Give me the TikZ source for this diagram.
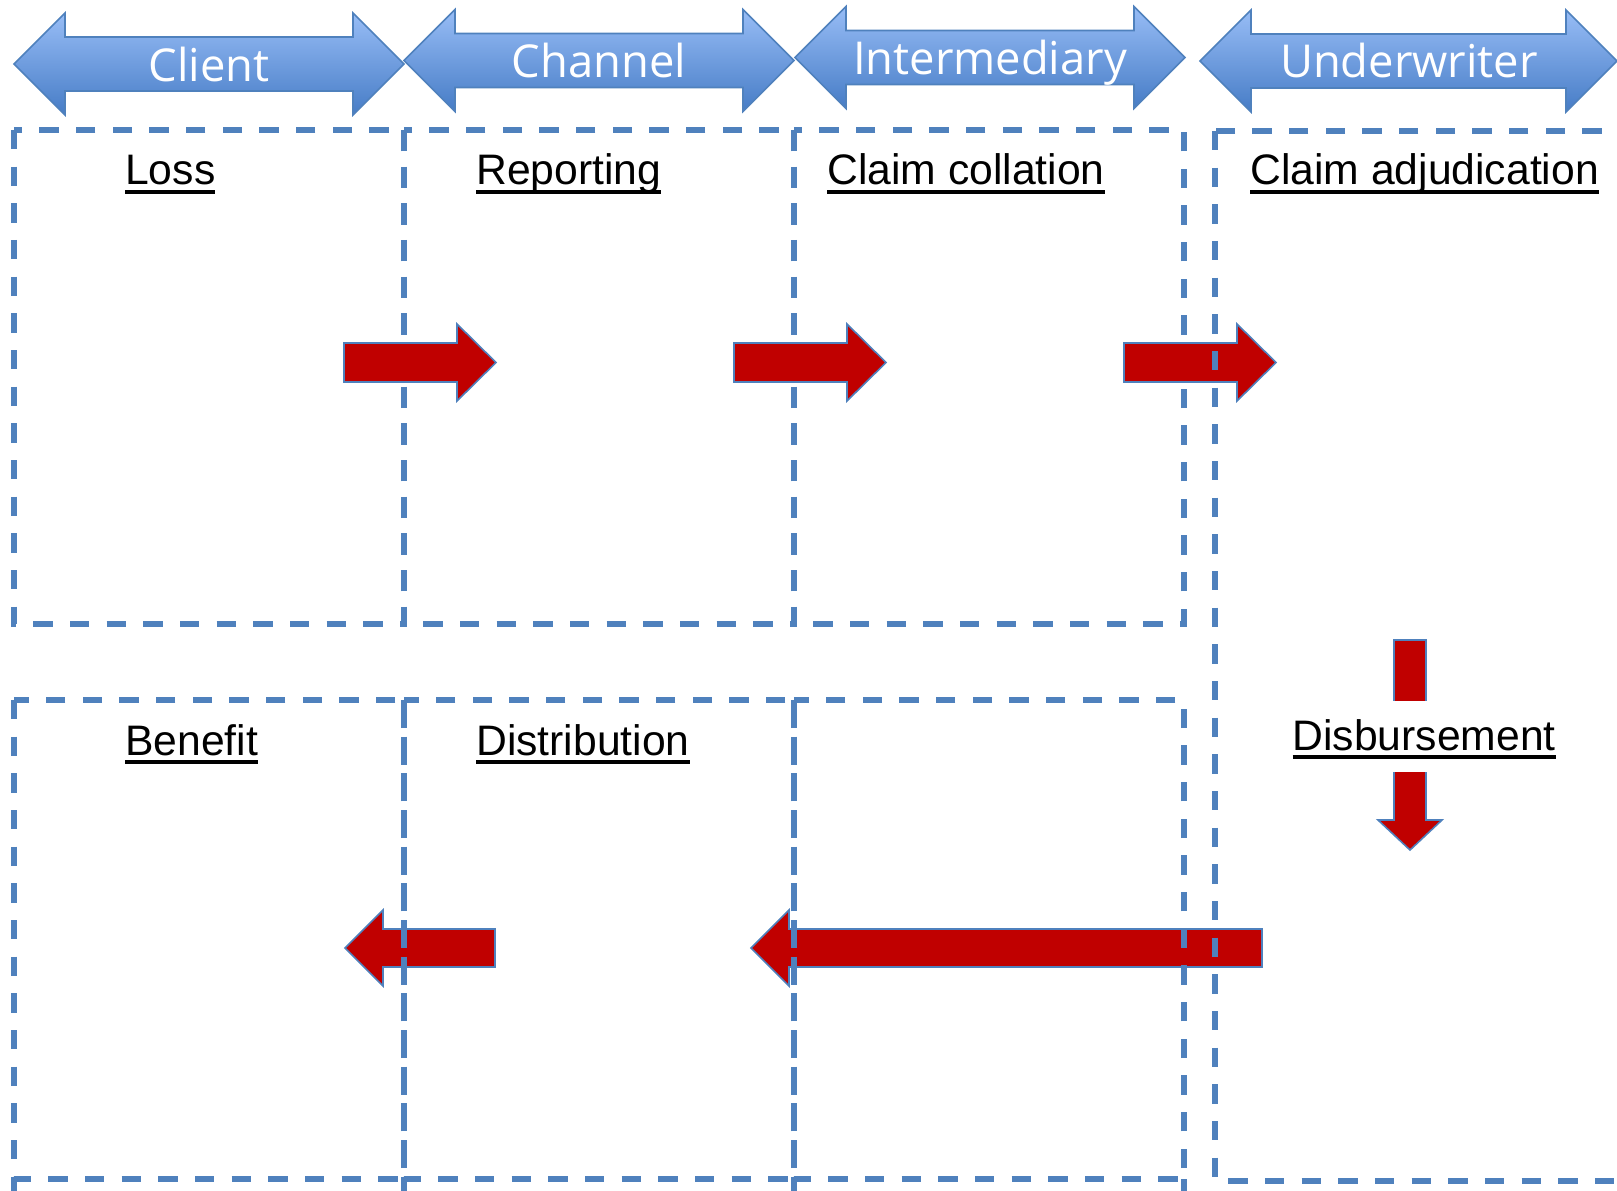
\documentclass[tikz,border=0pt]{standalone}
\usepackage{fontspec}
\setmainfont{Liberation Sans}
\newfontfamily\hdrfont{Open Sans}
\definecolor{dashblue}{HTML}{4F81BD}
\definecolor{arrred}{HTML}{C00000}
\definecolor{hdrtop}{RGB}{152,189,246}
\definecolor{hdrbot}{RGB}{70,124,198}
\definecolor{hdrline}{HTML}{4F81BD}
\newsavebox\myulbox
\newcommand\ulText[1]{\leavevmode\sbox\myulbox{#1}\rlap{\vrule height -4.1pt depth 6.4pt width \wd\myulbox}\usebox\myulbox}
\newcommand\hdrArrow[3]{%
  \path[hdrarr] (#1,#3) -- ({#1+51},{#3-51}) -- ({#1+51},{#3-27}) -- ({#2-51},{#3-27}) -- ({#2-51},{#3-51}) -- (#2,#3) -- ({#2-51},{#3+51}) -- ({#2-51},{#3+27}) -- ({#1+51},{#3+27}) -- ({#1+51},{#3+51}) -- cycle;}
\newcommand\redRight[3]{%
  \path[redarr] (#1,{#3-19.5}) -- ({#2-39},{#3-19.5}) -- ({#2-39},{#3-38.5}) -- (#2,#3) -- ({#2-39},{#3+38.5}) -- ({#2-39},{#3+19.5}) -- (#1,{#3+19.5}) -- cycle;}
\newcommand\redLeft[3]{%
  \path[redarr] (#2,{#3-19}) -- ({#1+38},{#3-19}) -- ({#1+38},{#3-38}) -- (#1,#3) -- ({#1+38},{#3+38}) -- ({#1+38},{#3+19}) -- (#2,{#3+19}) -- cycle;}
\begin{document}
\begin{tikzpicture}[x=0.75pt,y=-0.75pt,
  zone/.style={draw=dashblue, line width=4.2pt, dash pattern=on 14.5pt off 13pt},
  redarr/.style={fill=arrred, draw=dashblue, line width=1.2pt, line join=miter},
  hdrarr/.style={draw=hdrline, line width=1.2pt, top color=hdrtop, bottom color=hdrbot},
  hdrlbl/.style={text=white, font=\hdrfont\fontsize{34}{40}\selectfont, anchor=base, inner sep=0pt},
  steplbl/.style={text=black, font=\fontsize{32}{38}\selectfont, anchor=base west, inner sep=0pt}]
\useasboundingbox (0,0) rectangle (1617,1191);
\fill[white] (0,0) rectangle (1617,1191);
\clip (0,0) rectangle (1617,1191);

% header arrows
\hdrArrow{14}{404}{64}
\hdrArrow{404}{794}{60.5}
\hdrArrow{795}{1185}{57.5}
\hdrArrow{1200}{1617}{61}
\node[hdrlbl] (hClient) at (209,82) {Client};
\node[hdrlbl] (hChannel) at (599,78) {Channel};
\node[hdrlbl] (hInter) at (990,75) {Intermediary};
\node[hdrlbl] (hUnder) at (1409,78) {Underwriter};

% top row zones
\draw[zone] (14,130) rectangle (404,624);
\draw[zone] (404,130) rectangle (794,624);
\draw[zone] (794,130) rectangle (1184,624);

% top red arrows
\redRight{344}{496}{362.5}
\redRight{734}{886}{362.5}
\redRight{1124}{1276}{362.5}

% bottom red arrows
\redLeft{345}{495}{948}
\redLeft{751}{1262}{948}

% bottom row zones
\draw[zone] (14,700) rectangle (404,1179);
\draw[zone] (404,700) rectangle (794,1179);
\draw[zone] (794,700) rectangle (1184,1179);
\foreach \xx in {14,404,794,1184} \draw[zone] (\xx,1179) -- (\xx,1230);

% underwriter zone
\draw[zone] (1215,131) rectangle (1660,1181);

% down arrow
\path[redarr] (1394,640) -- (1426,640) -- (1426,820) -- (1442,820) -- (1410,850) -- (1378,820) -- (1394,820) -- cycle;

% step labels
\node[steplbl] (tLoss) at (125,185) {\ulText{Loss}};
\node[steplbl] (tReport) at (476,185) {\ulText{Reporting}};
\node[steplbl] (tCollation) at (827,185) {\ulText{Claim collation}};
\node[steplbl] (tAdjud) at (1250,185) {\ulText{Claim adjudication}};
\node[steplbl] (tBenefit) at (125,755) {\ulText{Benefit}};
\node[steplbl] (tDistrib) at (476,755) {\ulText{Distribution}};
\node[steplbl, fill=white, text height=36.75pt, text depth=16.5pt, inner xsep=4pt] (tDisburse) at (1287,750) {\ulText{Disbursement}};
\end{tikzpicture}
\end{document}
